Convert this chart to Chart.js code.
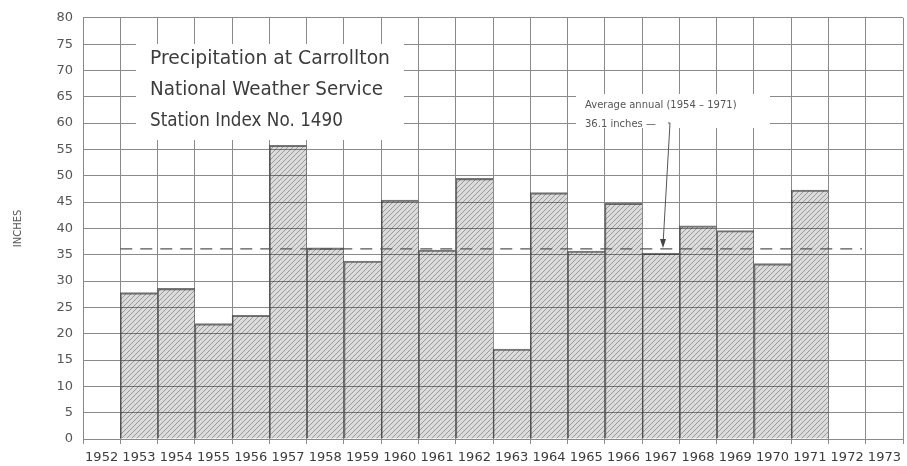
<!DOCTYPE html>
<html>
<head>
<meta charset="utf-8">
<script src="https://cdn.jsdelivr.net/npm/chart.js@4.4.1/dist/chart.umd.min.js"></script>
<style>
  body { margin: 0; background: #fff; }
  #wrap { width: 907px; height: 466px; position: relative; }
</style>
</head>
<body>
<div id="wrap"><canvas id="chartPrecip"></canvas></div>
<script>
const years = ['1952','1953','1954','1955','1956','1957','1958','1959','1960','1961','1962',
    '1963','1964','1965','1966','1967','1968','1969','1970','1971','1972','1973'];
const inches = [null, 27.8, 28.6, 21.9, 23.5, 55.8, 36.3, 33.8, 45.4, 35.9, 49.5,
    17.1, 46.8, 35.7, 44.8, 35.3, 40.5, 39.6, 33.3, 47.3, null, null];
const averageInches = 36.1;
const averageFrom = '1953';
const averageTo = '1972';
const titleLines = ['Precipitation at Carrollton', 'National Weather Service', 'Station Index No. 1490'];
const noteLines = ['Average annual (1954 \u2013 1971)', '36.1 inches \u2014'];

// see-through hatch so the grid shows inside the bars
function makeHatch() {
    const c = document.createElement('canvas');
    c.width = 5; c.height = 5;
    const g = c.getContext('2d');
    g.fillStyle = 'rgba(0,0,0,0.14)';
    g.fillRect(0, 0, 5, 5);
    g.strokeStyle = 'rgba(0,0,0,0.3)';
    g.lineWidth = 1;
    g.beginPath();
    g.moveTo(0, 5); g.lineTo(5, 0);
    g.moveTo(-1, 1); g.lineTo(1, -1);
    g.moveTo(4, 6); g.lineTo(6, 4);
    g.stroke();
    return g.createPattern(c, 'repeat');
}

const lineColor = '#8a8a8a';
const textColor = '#3c3c3c';

const notesPlugin = {
    id: 'notes',
    afterDatasetsDraw(chart) {
        const ctx = chart.ctx;
        const x = chart.scales.x, y = chart.scales.y;
        const half = (x.getPixelForValue(1) - x.getPixelForValue(0)) / 2;
        const yAvg = y.getPixelForValue(averageInches);
        const xStart = x.getPixelForValue(years.indexOf(averageFrom)) - half;
        const xEnd = x.getPixelForValue(years.indexOf(averageTo)) + half * 0.8;
        ctx.save();
        // average line
        ctx.strokeStyle = '#555';
        ctx.lineWidth = 1.3;
        ctx.setLineDash([12, 8]);
        ctx.beginPath();
        ctx.moveTo(xStart, yAvg);
        ctx.lineTo(xEnd, yAvg);
        ctx.stroke();
        ctx.setLineDash([]);

        // title box
        ctx.fillStyle = '#fff';
        ctx.fillRect(136, 44, 268, 96);
        ctx.fillStyle = textColor;
        ctx.font = '19px "DejaVu Sans"';
        ctx.textBaseline = 'alphabetic';
        titleLines.forEach(function(t, i) {
            ctx.fillText(t, 150, 64 + i * 31, i === 0 ? 240 : (i === 1 ? 233 : 193));
        });

        // average note
        ctx.fillStyle = '#fff';
        ctx.fillRect(576, 94, 194, 34);
        ctx.fillStyle = '#555';
        ctx.font = '10px "DejaVu Sans"';
        ctx.fillText(noteLines[0], 585, 108, 175);
        ctx.fillText(noteLines[1], 585, 127, 82);
        // arrow to the dashed line
        ctx.strokeStyle = '#555';
        ctx.lineWidth = 1;
        ctx.beginPath();
        ctx.moveTo(668, 123);
        ctx.lineTo(670, 123);
        ctx.lineTo(663, yAvg - 4);
        ctx.stroke();
        ctx.beginPath();
        ctx.moveTo(663, yAvg - 1);
        ctx.lineTo(660, yAvg - 10);
        ctx.lineTo(666, yAvg - 10);
        ctx.closePath();
        ctx.fillStyle = '#444';
        ctx.fill();
        ctx.restore();
    }
};

new Chart(document.getElementById('chartPrecip'), {
    type: 'bar',
    plugins: [notesPlugin],
    data: {
        labels: years,
        datasets: [{
            label: 'Precipitation',
            data: inches,
            backgroundColor: makeHatch(),
            borderColor: 'rgba(60,60,60,0.7)',
            borderWidth: { top: 1.5, left: 1, right: 0, bottom: 0 },
            barPercentage: 1,
            categoryPercentage: 1,
        }]
    },
    options: {
        responsive: true,
        maintainAspectRatio: false,
        animation: false,
        layout: { padding: { top: 11, right: 2, left: 0, bottom: 0 } },
        plugins: {
            legend: { display: false },
            tooltip: { enabled: false },
        },
        scales: {
            x: {
                offset: true,
                grid: { offset: true, color: lineColor, lineWidth: 1, tickLength: 5 },
                border: { color: lineColor },
                ticks: {
                    color: textColor,
                    font: { size: 13, family: '"DejaVu Sans"' },
                    padding: 6,
                    maxRotation: 0,
                    autoSkip: false,
                },
                afterFit: function(scale) { scale.height = 27; },
            },
            y: {
                min: 0,
                max: 80,
                ticks: {
                    stepSize: 5,
                    color: '#555',
                    font: { size: 13, family: '"DejaVu Sans"' },
                    padding: 10,
                },
                grid: { color: lineColor, lineWidth: 1, drawTicks: false },
                border: { color: lineColor },
                title: {
                    display: true,
                    text: 'INCHES',
                    color: '#555',
                    font: { size: 10, family: '"DejaVu Sans"' },
                    padding: { top: 12, bottom: 0 },
                },
                afterFit: function(scale) { scale.width = 83; },
            }
        }
    }
});
</script>
</body>
</html>
